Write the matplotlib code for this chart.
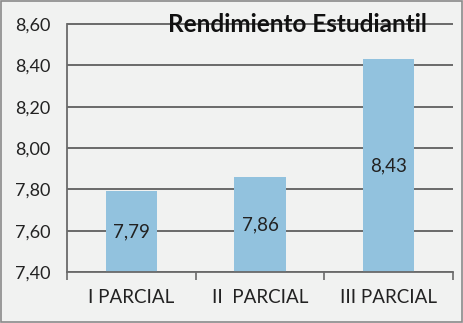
import matplotlib.pyplot as plt
from matplotlib.patches import Rectangle

parciales = ["I PARCIAL", "II  PARCIAL", "III PARCIAL"]
promedios = [7.79, 7.86, 8.43]
ticks_y = [7.40, 7.60, 7.80, 8.00, 8.20, 8.40, 8.60]

plt.rcParams['font.family'] = ['Lato', 'DejaVu Sans']

# axes a bit taller than the 7.40-8.60 range so the 8.60 line sits inside it
px_per_unit = (272 - 24) / 1.20
top_px = 24 - 0.03 * px_per_unit
fig = plt.figure(figsize=(4.63, 3.23), dpi=100, facecolor='#f1f2f1')
ax = fig.add_axes([67/463, 1 - 272/323, (453-67)/463, (272-top_px)/323])
ax.set_facecolor('#f1f2f1')

x = range(len(parciales))
ax.bar(x, [p - 7.40 for p in promedios], bottom=7.40, width=0.4,
       color='#92c2de', zorder=2)
for i, p in enumerate(promedios):
    ax.text(i, 7.40 + (p - 7.40) / 2, f"{p:.2f}".replace('.', ','),
            ha='center', va='center', fontsize=13.5, color='#222222', zorder=3)

ax.hlines(ticks_y, -0.5, 2.5, colors='#6a6a6a', linewidth=1.4, zorder=1)

ax.set_xlim(-0.5, 2.5)
ax.set_ylim(7.40, 8.63)
ax.set_yticks(ticks_y)
ax.set_yticklabels([f"{t:.2f}".replace('.', ',') for t in ticks_y],
                   fontsize=13, color='#222222')
ax.set_xticks([-0.5, 0.5, 1.5, 2.5], minor=True)
ax.set_xticks(list(x))
ax.set_xticklabels(parciales, fontsize=13.5, color='#222222')
ax.tick_params(axis='x', which='major', length=0, pad=12)
ax.tick_params(axis='x', which='minor', length=6, color='#6a6a6a', width=1.2)
ax.tick_params(axis='y', length=0, pad=12)
for side in ['top', 'right']:
    ax.spines[side].set_visible(False)
ax.spines['left'].set_bounds(7.40, 8.60)
ax.spines['left'].set_color('#6a6a6a')
ax.spines['left'].set_linewidth(1.3)
ax.spines['bottom'].set_color('#6a6a6a')
ax.spines['bottom'].set_linewidth(1.3)

fig.text(297/463, 1 - 25/323, "Rendimiento Estudiantil", ha='center', va='center',
         fontsize=17.5, fontweight='bold', color='#111111', zorder=5)

fig.patches.append(Rectangle((0.003, 0.004), 0.994, 0.992, transform=fig.transFigure,
                             fill=False, edgecolor='#8a8a8a', linewidth=1.2))

fig.savefig('out.png', dpi=100, facecolor=fig.get_facecolor())
